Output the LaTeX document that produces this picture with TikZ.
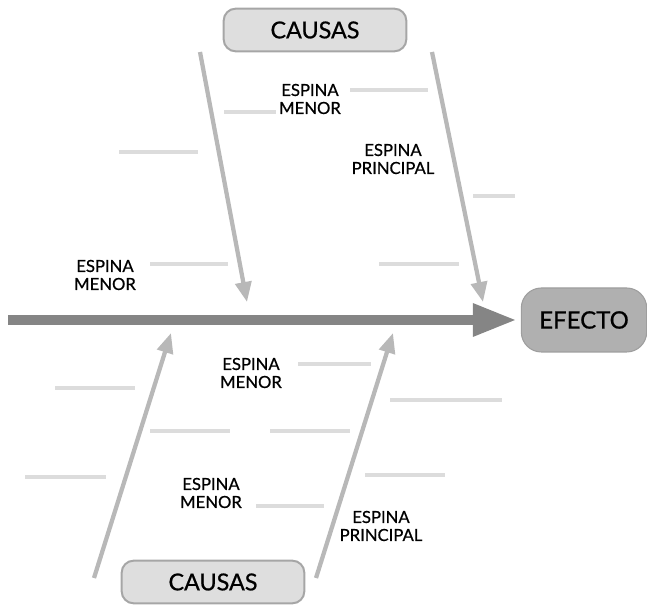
\documentclass[tikz,border=0pt]{standalone}
\usepackage{fontspec}
\setmainfont{Lato}[FakeBold=0.7]
\usetikzlibrary{arrows.meta,positioning}
\definecolor{spinegray}{HTML}{858585}
\definecolor{ribgray}{HTML}{B8B8B8}
\definecolor{minorgray}{HTML}{DCDCDC}
\definecolor{boxgray}{HTML}{DEDEDE}
\definecolor{boxline}{HTML}{A6A6A6}
\definecolor{effgray}{HTML}{B0B0B0}
\tikzstyle{cause}=[draw=boxline,line width=1.5pt,fill=boxgray,rounded corners=9pt,font=\fontsize{17.5}{19}\selectfont,minimum width=137pt,minimum height=32pt,inner sep=0pt]
\tikzstyle{effect}=[draw=effgray!90!black,line width=0.8pt,fill=effgray,rounded corners=15pt,font=\fontsize{18}{20}\selectfont,minimum width=94pt,minimum height=48pt,inner sep=0pt]
\tikzstyle{label}=[align=center,font=\fontsize{12.5}{13.5}\selectfont,inner sep=0pt]
\tikzstyle{spine}=[spinegray,line width=7.5pt,-{Triangle[length=33pt,width=23pt]}]
\tikzstyle{rib}=[ribgray,line width=3.2pt,-{Triangle[length=15pt,width=12pt]}]
\tikzstyle{minor}=[minorgray,line width=3.6pt]

\begin{document}
\begin{tikzpicture}[x=0.75pt,y=-0.75pt]
        \useasboundingbox (0,0) rectangle (647,605);
        \node (top) [cause] at (315,30) {CAUSAS};
        \node (bottom) [cause] at (213,582) {CAUSAS};
        \node (effect) [effect] at (584,320) {EFECTO};

        \coordinate (tail) at (8,320);
        \coordinate (tl) at (200,52);  \coordinate (tlend) at (247,302);
        \coordinate (tr) at (432,52);  \coordinate (trend) at (483,302);
        \coordinate (bl) at (94,578);  \coordinate (blend) at (171,333);
        \coordinate (br) at (316,578); \coordinate (brend) at (393,333);

        % main spine and ribs
        \draw[spine,shorten >=3pt] (tail) -- (effect.west);
        \path[rib] (tl) edge (tlend) (tr) edge (trend) (bl) edge (blend) (br) edge (brend);

        % small bones
        \foreach \xa/\xb/\y in {350/428/90, 224/276/112, 119/198/152, 473/515/196,
                150/228/264, 379/459/264, 298/371/364, 55/135/388, 390/502/400,
                150/230/431, 270/350/431, 25/106/477, 365/445/475, 256/324/506}
            \draw[minor] (\xa,\y) -- (\xb,\y);

        \node (m1) [label] at (310,99) {ESPINA\\MENOR};
        \node (p1) [label] at (393,159) {ESPINA\\PRINCIPAL};
        \node (m2) [label] at (105,275) {ESPINA\\MENOR};
        \node (m3) [label] at (251,373) {ESPINA\\MENOR};
        \node (m4) [label] at (211,493) {ESPINA\\MENOR};
        \node (p2) [label] at (381,526) {ESPINA\\PRINCIPAL};
    \end{tikzpicture}
\end{document}
